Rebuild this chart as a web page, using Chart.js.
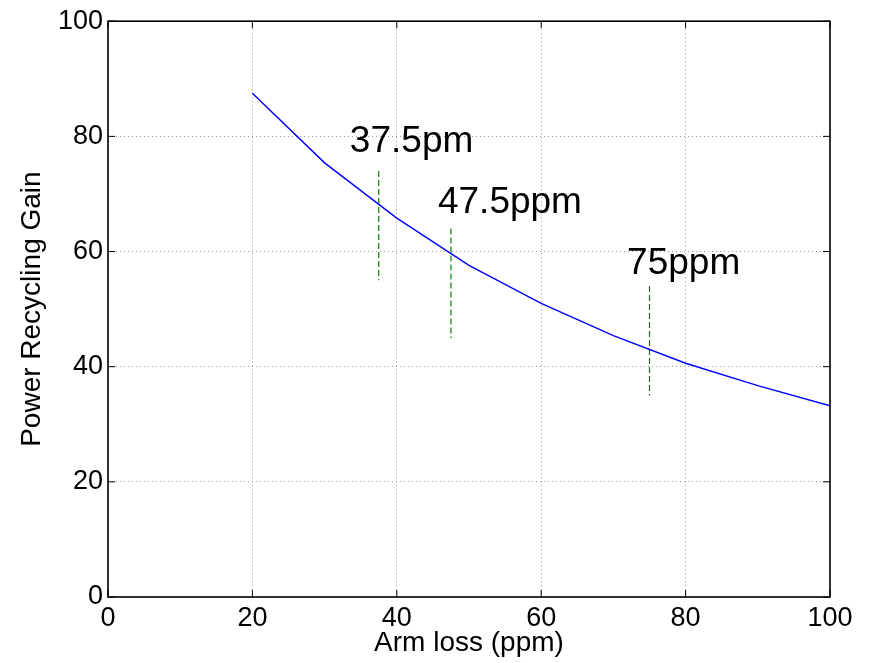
<!DOCTYPE html>
<html>
<head>
<meta charset="utf-8">
<script src="https://cdn.jsdelivr.net/npm/chart.js@4.4.1/dist/chart.umd.min.js"></script>
<style>
  html, body { margin: 0; padding: 0; background: #fff; }
  #wrap { width: 875px; height: 663px; }
</style>
</head>
<body>
<div id="wrap"><canvas id="graficaGanancia"></canvas></div>
<script>
// datos
const perdidaBrazo = [20, 30, 40, 50, 60, 70, 80, 90, 100];
const gananciaRecicl = [87.5, 75.4, 65.8, 57.6, 51.0, 45.4, 40.6, 36.7, 33.2];

const marcasX = [37.5, 47.5, 75];
const marcasArriba = [74, 64, 54];
const marcasAbajo = [55, 45, 35];
const marcasColor = ["#008000", "#008000", "#2a602a"];

const etiquetasTexto = ["37.5pm", "47.5ppm", "75ppm"];
const etiquetasX = [33.5, 45.7, 71.9];
const etiquetasY = [79.1, 68.5, 57.8];

const ticksX = [0, 20, 40, 60, 80, 100];
const ticksY = [0, 20, 40, 60, 80, 100];

const FUENTE = "'Liberation Sans', Arial, Helvetica, sans-serif";

// caja negra con marcas hacia adentro + textos
const marcoPlugin = {
    id: "marco",
    afterDatasetsDraw(chart) {
        const ctx = chart.ctx;
        const a = chart.chartArea;
        const sx = chart.scales.x;
        const sy = chart.scales.y;
        const largo = 7;
        ctx.save();
        ctx.strokeStyle = "#000";
        ctx.lineWidth = 1;
        ticksX.forEach(v => {
            const px = sx.getPixelForValue(v);
            ctx.beginPath();
            ctx.moveTo(px, a.bottom); ctx.lineTo(px, a.bottom - largo);
            ctx.moveTo(px, a.top); ctx.lineTo(px, a.top + largo);
            ctx.stroke();
        });
        ticksY.forEach(v => {
            const py = sy.getPixelForValue(v);
            ctx.beginPath();
            ctx.moveTo(a.left, py); ctx.lineTo(a.left + largo, py);
            ctx.moveTo(a.right, py); ctx.lineTo(a.right - largo, py);
            ctx.stroke();
        });
        ctx.lineWidth = 1.6;
        ctx.strokeRect(a.left, a.top, a.right - a.left, a.bottom - a.top);

        ctx.fillStyle = "#000";
        ctx.font = "37px " + FUENTE;
        ctx.textAlign = "left";
        ctx.textBaseline = "middle";
        etiquetasTexto.forEach((t, i) => {
            ctx.fillText(t, sx.getPixelForValue(etiquetasX[i]), sy.getPixelForValue(etiquetasY[i]));
        });
        ctx.restore();
    }
};

function crearGrafica(idCanvas) {
    const ctx = document.getElementById(idCanvas);
    if (!ctx) {
        console.warn("No se encontró el canvas:", idCanvas);
        return;
    }

    const datasets = [{
        label: "Ganancia",
        data: perdidaBrazo.map((x, i) => ({ x: x, y: gananciaRecicl[i] })),
        borderColor: "#0000ff",
        borderWidth: 1.4,
        pointRadius: 0,
        showLine: true,
        tension: 0
    }];

    marcasX.forEach((x, i) => {
        datasets.push({
            label: etiquetasTexto[i],
            data: [{ x: x, y: marcasArriba[i] }, { x: x, y: marcasAbajo[i] }],
            borderColor: marcasColor[i],
            borderWidth: 1.2,
            borderDash: [6, 3],
            pointRadius: 0,
            showLine: true
        });
    });

    const ejeComun = {
        type: "linear",
        min: 0,
        max: 100,
        grid: { color: "#9a9a9a", lineWidth: 1, drawTicks: false },
        border: { display: false, dash: [1, 3] },
        ticks: {
            stepSize: 20,
            color: "#000",
            font: { family: FUENTE, size: 27 }
        },
        title: {
            display: true,
            color: "#000",
            font: { family: FUENTE, size: 28 }
        }
    };

    new Chart(ctx, {
        type: "scatter",
        data: { datasets: datasets },
        options: {
            responsive: true,
            maintainAspectRatio: false,
            animation: false,
            layout: { padding: { top: 19, right: 45, left: 0, bottom: 0 } },
            plugins: { legend: { display: false }, tooltip: { enabled: false } },
            scales: {
                x: {
                    ...ejeComun,
                    ticks: { ...ejeComun.ticks, padding: 5, maxRotation: 0 },
                    title: { ...ejeComun.title, text: "Arm loss (ppm)", padding: 3 },
                    afterFit(scale) { scale.height = 66; }
                },
                y: {
                    ...ejeComun,
                    ticks: { ...ejeComun.ticks, padding: 5 },
                    title: { ...ejeComun.title, text: "Power Recycling Gain", padding: 15 },
                    afterFit(scale) { scale.width = 108; }
                }
            }
        },
        plugins: [marcoPlugin]
    });
}

document.addEventListener("DOMContentLoaded", () => {
    crearGrafica("graficaGanancia");
});
</script>
</body>
</html>
